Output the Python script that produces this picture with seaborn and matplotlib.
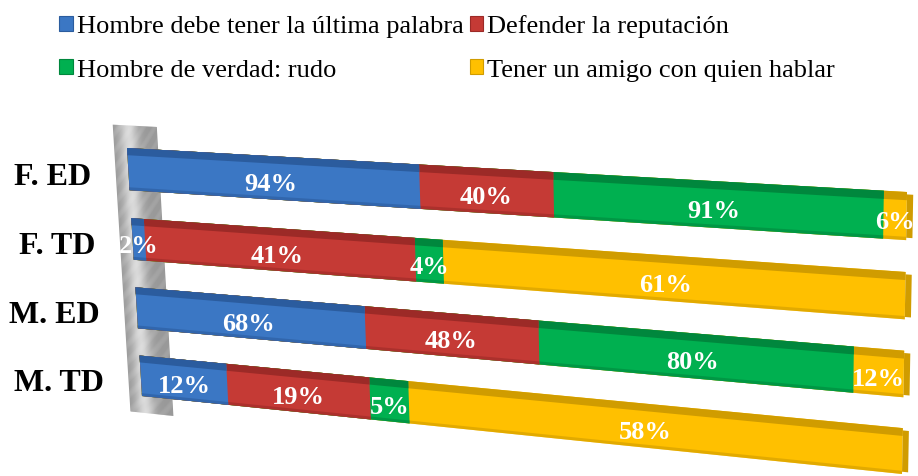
import numpy as np
import pandas as pd
import seaborn as sns
import matplotlib
matplotlib.use("Agg")
import matplotlib.pyplot as plt
from matplotlib import transforms as mtransforms
from matplotlib.patches import Rectangle, Polygon, Patch

# ---------------- data ----------------
categories = ["F. ED", "F. TD", "M. ED", "M. TD"]
series_names = ["Hombre debe tener la última palabra", "Defender la reputación",
                "Hombre de verdad: rudo", "Tener un amigo con quien hablar"]
v_ultima_palabra = [94, 2, 68, 12]
v_reputacion = [40, 41, 48, 19]
v_rudo = [91, 4, 80, 5]
v_amigo = [6, 61, 12, 58]

colors = ["#3B77C4", "#C53A35", "#00B050", "#FFC000"]
top_colors = ["#2B5C9E", "#9C2A27", "#00873D", "#D09C00"]

sns.set_style("white")
plt.rcParams["font.family"] = ["Liberation Serif", "DejaVu Serif"]
plt.rcParams["text.color"] = "black"

values = np.array([v_ultima_palabra, v_reputacion, v_rudo, v_amigo], dtype=float)
totals = values.sum(axis=0)
shares = values / totals
cum = np.cumsum(shares, axis=0)
lefts = cum - shares

df = pd.DataFrame({"cat": categories})
for k in range(4):
    df[f"c{k}"] = cum[k]

W, H_PX = 918, 477
fig = plt.figure(figsize=(W / 100, H_PX / 100), dpi=100)
ax = fig.add_axes([0, 0, 1, 1])


# --------------- perspective (3D-like) transform ----------------
class Perspective(mtransforms.Transform):
    input_dims = 2
    output_dims = 2
    is_separable = False

    def __init__(self, Hm):
        super().__init__()
        self.Hm = Hm

    def transform_non_affine(self, values):
        values = np.asarray(values, dtype=float).reshape(-1, 2)
        pts = np.column_stack([values, np.ones(len(values))])
        out = pts @ self.Hm.T
        return out[:, :2] / out[:, 2:3]


def homography(src, dst):
    A, b = [], []
    for (u, v), (x, y) in zip(src, dst):
        A.append([u, v, 1, 0, 0, 0, -u * x, -v * x]); b.append(x)
        A.append([0, 0, 0, u, v, 1, -u * y, -v * y]); b.append(y)
    h = np.linalg.solve(np.array(A), np.array(b))
    return np.append(h, 1).reshape(3, 3)


BAR_H = 0.6
y_lo, y_hi = -0.5, 3.5
def vfrac(y):
    return (y_hi - y) / (y_hi - y_lo)

src = [(0, vfrac(-BAR_H / 2)), (1, vfrac(-BAR_H / 2)),
       (0, vfrac(3 + BAR_H / 2)), (1, vfrac(3 + BAR_H / 2))]
dst_px = [(127, 149), (907, 193), (142, 397), (902, 475)]
dst = [(x / W, 1 - y / H_PX) for x, y in dst_px]
Hm = homography(src, dst)

T = ax.transScale + ax.transLimits + Perspective(Hm) + fig.transFigure

# --------------- back wall ----------------
n_str = 40
wx = np.linspace(-0.019, 0.045, n_str + 1)
t = np.linspace(0, 1, n_str)
prof = 0.60 + 0.25 * np.exp(-((t - 0.35) / 0.22) ** 2)
for j in range(n_str):
    g = prof[j]
    ax.add_patch(Polygon([(wx[j], -0.62), (wx[j + 1] + 0.0005, -0.62), (wx[j + 1] + 0.0005, 3.55), (wx[j], 3.55)],
                         closed=True, facecolor=(g, g, g), edgecolor="none",
                         transform=T, clip_on=False, zorder=1))

# --------------- stacked bars via seaborn ----------------
order = [3, 2, 1, 0]
z = 2
for k in order:
    n_before = len(ax.patches)
    sns.barplot(data=df, x=f"c{k}", y="cat", color=colors[k], orient="h",
                width=BAR_H, saturation=1, ax=ax, errorbar=None)
    new = ax.patches[n_before:]
    for p in new:
        p.set_transform(T)
        p.set_clip_on(False)
        p.set_edgecolor("none")
        p.set_zorder(z)
        x0, y0, w, h = p.get_x(), p.get_y(), p.get_width(), p.get_height()
        strip = Rectangle((x0, y0), w, h * 0.17, facecolor=top_colors[k],
                          edgecolor="none", transform=T, clip_on=False, zorder=z + 0.5)
        ax.add_patch(strip)
        shadow = Rectangle((x0, y0 + h * 0.93), w, h * 0.07, facecolor=top_colors[k],
                           edgecolor="none", transform=T, clip_on=False, zorder=z + 0.5, alpha=0.6)
        ax.add_patch(shadow)
        if k == 3:
            cap = Rectangle((x0 + w, y0 + h * 0.05), 0.007, h * 0.9, facecolor=top_colors[k],
                            edgecolor="none", transform=T, clip_on=False, zorder=z + 0.6)
            ax.add_patch(cap)
    z += 1

ax.set_xlim(0, 1)
ax.set_ylim(y_hi, y_lo)
ax.axis("off")

# --------------- labels ----------------
for k in range(4):
    for i in range(4):
        xc = lefts[k, i] + shares[k, i] / 2
        ax.text(xc, i + 0.08, f"{int(values[k, i])}%", transform=T, ha="center", va="center",
                color="white", fontsize=19, fontweight="bold", zorder=30, clip_on=False)

for i, c in enumerate(categories):
    ax.annotate(c, xy=(0, i + 0.1), xycoords=T, xytext=(-37, 0), textcoords="offset pixels",
                ha="right", va="center", fontsize=23, fontweight="bold", color="black",
                annotation_clip=False)

# --------------- legend ----------------
handles = [Patch(facecolor=colors[k], edgecolor=top_colors[k], linewidth=0.8) for k in range(4)]
lorder = [0, 2, 1, 3]
leg = fig.legend([handles[k] for k in lorder], [series_names[k] for k in lorder],
                 loc="upper left", bbox_to_anchor=(41 / W, 1 + 3 / H_PX), ncol=2, frameon=False,
                 handlelength=0.5, handleheight=0.5, handletextpad=0.15, columnspacing=0.25,
                 labelspacing=0.8, borderpad=0.2, prop={"family": "Liberation Serif", "size": 19})
for txt in leg.get_texts():
    txt.set_color("black")

fig.savefig("out.png", dpi=100)
